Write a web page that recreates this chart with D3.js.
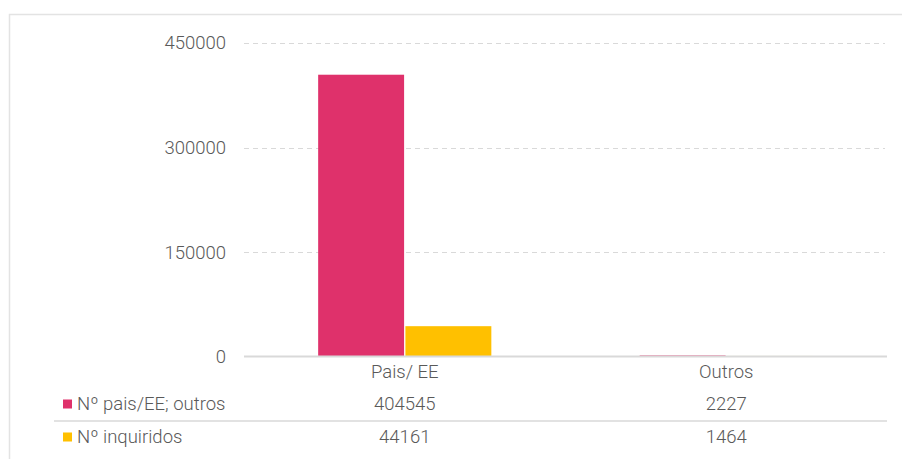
<!DOCTYPE html>
<html>
<head>
<meta charset="utf-8">
<script src="https://cdn.jsdelivr.net/npm/d3@7"></script>
<style>
  html, body { margin: 0; padding: 0; background: #fff; }
  svg { display: block; }
  text { font-family: Roboto, "Liberation Sans", sans-serif; font-weight: 300; fill: #595959; }
</style>
</head>
<body>
<svg id="chart" width="902" height="459"></svg>
<script>
// Categories, series and axis ticks
const categories = ["Pais/ EE", "Outros"];
const seriesNames = ["Nº pais/EE; outros", "Nº inquiridos"];
const paisValues = [404545, 2227];
const inquiridosValues = [44161, 1464];
const yTicks = [0, 150000, 300000, 450000];
const seriesColors = ["#DF316B", "#FFC000"];

const series = [
  { name: seriesNames[0], values: paisValues, color: seriesColors[0] },
  { name: seriesNames[1], values: inquiridosValues, color: seriesColors[1] }
];

const svg = d3.select("#chart");
const W = 902, H = 459;

// Outer frame of the chart area
svg.append("path")
  .attr("d", `M9.5,${H + 5} V14.5 H${W + 5}`)
  .attr("fill", "none")
  .attr("stroke", "#E3E3E3")
  .attr("stroke-width", 1.5);

const plot = { left: 244, right: 887, top: 43, bottom: 357 };

const x = d3.scaleBand()
  .domain(categories)
  .range([plot.left, plot.right]);

const y = d3.scaleLinear()
  .domain([0, 450000])
  .range([plot.bottom, plot.top]);

const inner = d3.scaleBand()
  .domain(series.map(s => s.name))
  .range([0, x.bandwidth()])
  .paddingInner(0.015)
  .paddingOuter(0.85);

// Dashed horizontal gridlines
svg.append("g")
  .selectAll("line")
  .data(yTicks.filter(t => t > 0))
  .join("line")
  .attr("x1", plot.left)
  .attr("x2", 885)
  .attr("y1", d => Math.round(y(d)) + 0.5)
  .attr("y2", d => Math.round(y(d)) + 0.5)
  .attr("stroke", "#D9D9D9")
  .attr("stroke-width", 1)
  .attr("stroke-dasharray", "5,4");

// Y axis labels
const yAxis = d3.axisLeft(y).tickValues(yTicks).tickSize(0).tickPadding(0).tickFormat(d3.format("d"));
const yg = svg.append("g").attr("transform", "translate(226,0)").call(yAxis);
yg.select(".domain").remove();
yg.selectAll("text")
  .attr("font-size", 18.5)
  .attr("dy", "0.32em")
  .style("font-family", "Roboto, 'Liberation Sans', sans-serif")
  .style("font-weight", 300)
  .attr("fill", "#595959");

// Bars
series.forEach(s => {
  svg.append("g")
    .selectAll("rect")
    .data(categories.map((c, i) => ({ c, v: s.values[i] })))
    .join("rect")
    .attr("x", d => x(d.c) + inner(s.name))
    .attr("width", inner.bandwidth())
    .attr("y", d => y(d.v))
    .attr("height", d => y(0) - y(d.v))
    .attr("fill", s.color);
});

// Baseline
svg.append("line")
  .attr("x1", plot.left).attr("x2", plot.right)
  .attr("y1", plot.bottom - 0.5).attr("y2", plot.bottom - 0.5)
  .attr("stroke", "#D9D9D9").attr("stroke-width", 2);

// Category labels under the axis
svg.append("g")
  .selectAll("text")
  .data(categories)
  .join("text")
  .attr("x", d => x(d) + x.bandwidth() / 2)
  .attr("y", 372)
  .attr("dy", "0.35em")
  .attr("text-anchor", "middle")
  .attr("font-size", 18.5)
  .text(d => d);

// Data table rows
const rowY = [404, 437];
series.forEach((s, r) => {
  const g = svg.append("g");
  g.append("rect")
    .attr("x", 63).attr("y", rowY[r] - 4.5)
    .attr("width", 9).attr("height", 9)
    .attr("fill", s.color);
  g.append("text")
    .attr("x", 77).attr("y", rowY[r])
    .attr("dy", "0.35em")
    .attr("font-size", 18.5)
    .text(s.name);
  g.selectAll("text.val")
    .data(s.values)
    .join("text")
    .attr("class", "val")
    .attr("x", (d, i) => x(categories[i]) + x.bandwidth() / 2)
    .attr("y", rowY[r])
    .attr("dy", "0.35em")
    .attr("text-anchor", "middle")
    .attr("font-size", 18.5)
    .text(d => d);
});

// Separator between table rows
svg.append("line")
  .attr("x1", 54).attr("x2", plot.right)
  .attr("y1", 421).attr("y2", 421)
  .attr("stroke", "#D9D9D9").attr("stroke-width", 1.5);
</script>
</body>
</html>
